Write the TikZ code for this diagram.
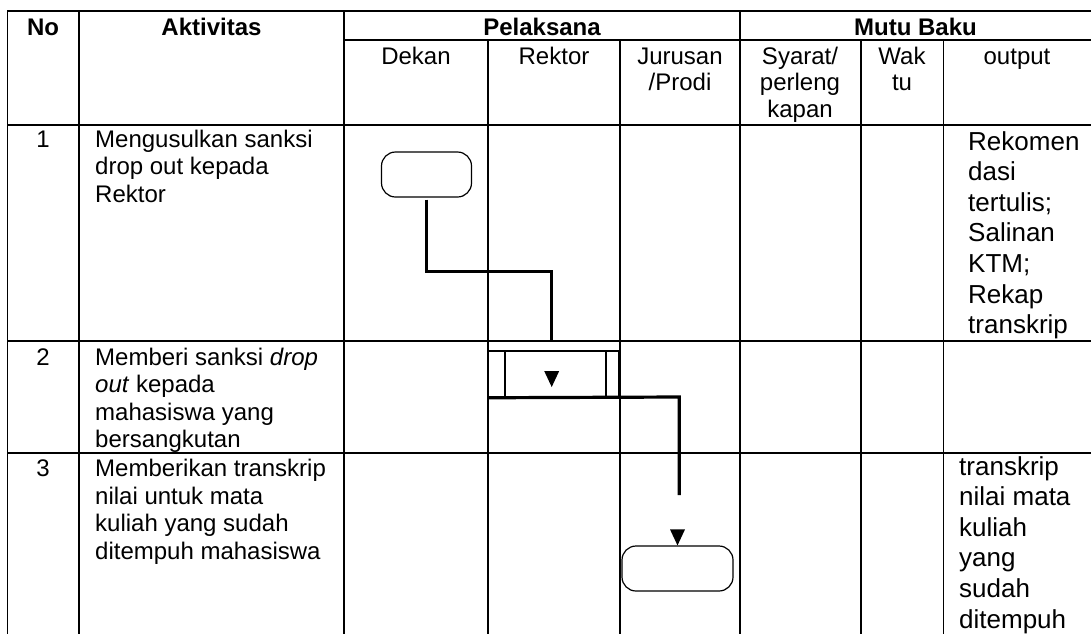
\documentclass[tikz,border=0pt]{standalone}
\usepackage{fontspec}
\setmainfont{Liberation Sans}
\usetikzlibrary{calc}
\newcommand\lcell[1]{\begin{tabular}[t]{@{}l@{}}#1\end{tabular}}
\newcommand\ccell[1]{\begin{tabular}[t]{@{}c@{}}#1\end{tabular}}
\begin{document}
\begin{tikzpicture}[x=1pt,y=-1pt,
  tline/.style={line width=1.6pt, line cap=rect},
  conn/.style={line width=3.2pt},
  term/.style={draw, rounded corners=14pt, line width=1.2pt, inner sep=0pt, minimum height=45pt},
  procbox/.style={draw, line width=1.5pt, inner sep=0pt, minimum width=131pt, minimum height=46pt},
  hdr/.style={font=\fontsize{24}{27.5}\selectfont\bfseries, anchor=base, inner sep=0pt},
  sub/.style={font=\fontsize{24}{26.5}\selectfont, anchor=base, inner sep=0pt},
  body/.style={font=\fontsize{24}{27.5}\selectfont, anchor=base west, inner sep=0pt},
  num/.style={font=\fontsize{24}{27.5}\selectfont, anchor=base, inner sep=0pt},
  outtxt/.style={font=\fontsize{26}{30.6}\selectfont, anchor=base west, inner sep=0pt},
  tip/.style={fill=black}]
\useasboundingbox (0,0) rectangle (1091,633);
% table grid
\draw[tline] (7.3,11) -- (1095,11);
\draw[tline] (344,40) -- (1095,40);
\foreach \yy in {125,340.7,452.7} \draw[tline] (7.3,\yy) -- (1095,\yy);
\foreach \xx in {7.3,79,344,740} \draw[tline] (\xx,11) -- (\xx,640);
\foreach \xx in {488,620,860.7,943.3} \draw[tline] (\xx,40) -- (\xx,640);
% header text
\node[hdr] (hno) at (43,35) {No};
\node[hdr] (hakt) at (211.5,35) {Aktivitas};
\node[hdr] (hpel) at (542,35) {Pelaksana};
\node[hdr] (hmutu) at (915.5,35) {Mutu Baku};
\node[sub] (hdek) at (416,64) {Dekan};
\node[sub] (hrek) at (554,64) {Rektor};
\node[sub] (hjur) at (680,64) {\ccell{Jurusan\\/Prodi}};
\node[sub] (hsya) at (800,64) {\ccell{Syarat/\\perleng\\kapan}};
\node[sub] (hwak) at (902,64) {\ccell{Wak\\tu}};
\node[sub] (hout) at (1017,64) {output};
% rows
\node[num] (n1) at (43,147) {1};
\node[body] (a1) at (95,147) {\lcell{Mengusulkan sanksi\\drop out kepada\\Rektor}};
\node[num] (n2) at (43,365) {2};
\node[body] (a2) at (95,365) {\lcell{Memberi sanksi \textit{drop}\\\textit{out} kepada\\mahasiswa yang\\bersangkutan}};
\node[num] (n3) at (43,476.5) {3};
\node[body] (a3) at (95,476.5) {\lcell{Memberikan transkrip\\nilai untuk mata\\kuliah yang sudah\\ditempuh mahasiswa}};
\node[outtxt] (o1) at (968,150) {\lcell{Rekomen\\dasi\\tertulis;\\Salinan\\KTM;\\Rekap\\transkrip}};
\node[outtxt] (o3) at (959,475) {\lcell{transkrip\\nilai mata\\kuliah\\yang\\sudah\\ditempuh}};
% flow shapes
\node[term, minimum width=90pt] (t1) at (426.5,174.5) {};
\node[procbox] (p2) at (553.5,374) {};
\draw[line width=1.5pt] ($(p2.north west)+(17.7,0)$) -- ($(p2.south west)+(17.7,0)$);
\draw[line width=1.5pt] ($(p2.north east)+(-14,0)$) -- ($(p2.south east)+(-14,0)$);
\node[term, minimum width=111pt] (t3) at (677.5,568.5) {};
% connectors
\coordinate (b1) at (551.7,271.7);
\coordinate (e1) at (551.7,340.7);
\draw[conn] ([yshift=-2pt]t1.south) |- (b1) -- (e1);
\coordinate (b2) at (679.3,397);
\coordinate (e2) at (679.3,495);
\draw[conn] (p2.south west) -- (b2) -- (e2);
% arrow tips
\fill[tip] (544.2,371) -- (559.2,371) -- (551.7,387) -- cycle;
\fill[tip] ($(t3.north)+(-7.5,-16)$) -- ($(t3.north)+(7.5,-16)$) -- (t3.north) -- cycle;
\end{tikzpicture}
\end{document}
